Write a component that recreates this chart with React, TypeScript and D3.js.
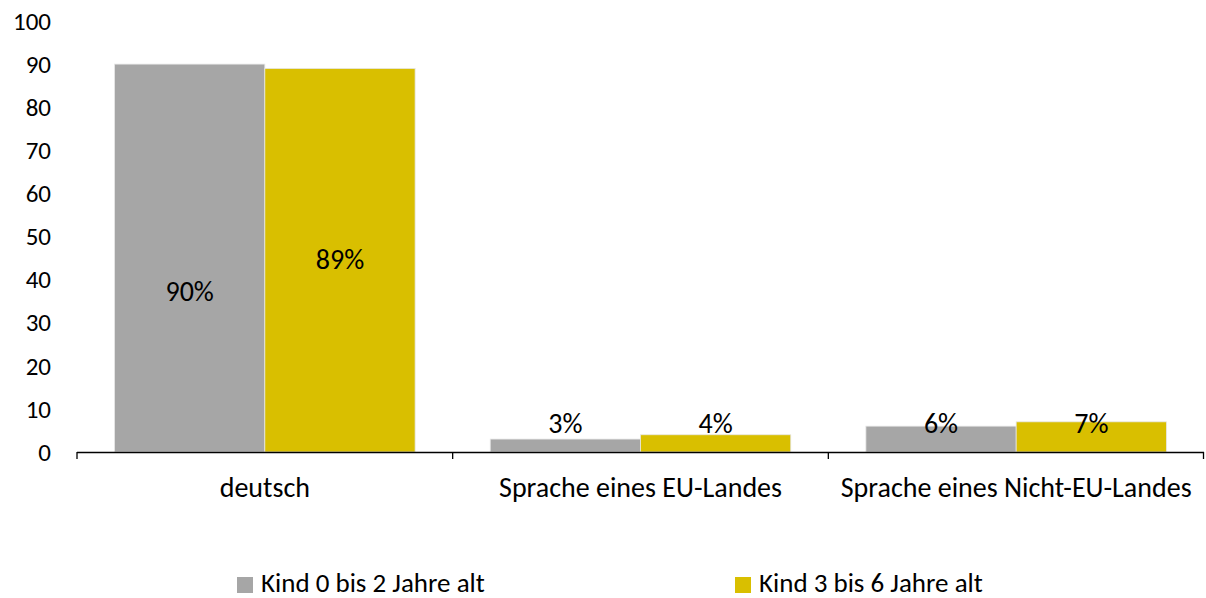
import * as d3 from 'd3';
import React, { useRef, useEffect } from 'react';

// categories and series (in percent)
const categories = ['deutsch', 'Sprache eines EU-Landes', 'Sprache eines Nicht-EU-Landes'];
const seriesNames = ['Kind 0 bis 2 Jahre alt', 'Kind 3 bis 6 Jahre alt'];
const age0to2 = [90, 3, 6];
const age3to6 = [89, 4, 7];
const yTicks = [0, 10, 20, 30, 40, 50, 60, 70, 80, 90, 100];

const colors = ['#A6A6A6', '#D9BF00'];
const W = 1206;
const H = 598;
const FONT = 'Carlito, Calibri, Lato, "Open Sans", sans-serif';

function App() {
  const svgRef = useRef<SVGSVGElement>(null);

  useEffect(() => {
    document.body.style.margin = '0';
    const svg = d3.select(svgRef.current);
    svg.selectAll('*').remove();

    const margin = { left: 77, right: 2, top: 21, bottom: 146 };
    const x = d3.scaleBand<string>()
      .domain(categories)
      .range([margin.left, W - margin.right]);
    const inner = d3.scaleBand<string>()
      .domain(seriesNames)
      .range([0, x.bandwidth()])
      .paddingOuter(0.25)
      .paddingInner(0);
    const y = d3.scaleLinear().domain([0, 100]).range([H - margin.bottom, margin.top]);

    // y tick labels (no axis line)
    svg.append('g')
      .selectAll('text')
      .data(yTicks)
      .join('text')
      .attr('x', 51)
      .attr('y', d => y(d))
      .attr('dy', '0.35em')
      .attr('text-anchor', 'end')
      .attr('font-family', FONT)
      .attr('font-size', 25)
      .attr('fill', '#000')
      .text(d => d);

    // bars
    const series = [age0to2, age3to6];
    const rows = categories.flatMap((c, i) =>
      series.map((s, j) => ({ cat: c, name: seriesNames[j], value: s[i], j, i })));

    svg.append('g')
      .selectAll('rect')
      .data(rows)
      .join('rect')
      .attr('x', d => x(d.cat)! + inner(d.name)!)
      .attr('y', d => y(d.value))
      .attr('width', inner.bandwidth())
      .attr('height', d => y(0) - y(d.value))
      .attr('fill', d => colors[d.j])
      .attr('stroke', '#e6e6e6')
      .attr('stroke-width', 0.8);

    // value labels: inside the big bars, above the small ones
    svg.append('g')
      .selectAll('text')
      .data(rows)
      .join('text')
      .attr('x', d => x(d.cat)! + inner(d.name)! + inner.bandwidth() / 2)
      .attr('y', d => {
        if (d.i === 0) return d.j === 0 ? y(37.3) : y(44.8);
        return y(6.6);
      })
      .attr('dy', '0.35em')
      .attr('text-anchor', 'middle')
      .attr('font-family', FONT)
      .attr('font-size', 28)
      .attr('fill', '#000')
      .text(d => `${d.value}%`);

    // x axis
    const axisY = y(0);
    const gx = svg.append('g');
    gx.append('line')
      .attr('x1', margin.left).attr('x2', W - margin.right)
      .attr('y1', axisY + 0.5).attr('y2', axisY + 0.5)
      .attr('stroke', '#000').attr('stroke-width', 1.3);
    const bounds = categories.map(c => x(c)!).concat([x(categories[categories.length - 1])! + x.bandwidth()]);
    gx.selectAll('line.tick')
      .data(bounds)
      .join('line')
      .attr('class', 'tick')
      .attr('x1', d => Math.min(d, W - margin.right - 0.5))
      .attr('x2', d => Math.min(d, W - margin.right - 0.5))
      .attr('y1', axisY)
      .attr('y2', axisY + 7)
      .attr('stroke', '#000').attr('stroke-width', 1.3);
    gx.selectAll('text')
      .data(categories)
      .join('text')
      .attr('x', d => x(d)! + x.bandwidth() / 2)
      .attr('y', axisY + 35)
      .attr('dy', '0.35em')
      .attr('text-anchor', 'middle')
      .attr('font-family', FONT)
      .attr('font-size', 28)
      .attr('fill', '#000')
      .text(d => d);

    // legend
    const legendX = [237, 735];
    const lg = svg.append('g');
    seriesNames.forEach((n, j) => {
      lg.append('rect')
        .attr('x', legendX[j]).attr('y', 577)
        .attr('width', 16).attr('height', 16)
        .attr('fill', colors[j]);
      lg.append('text')
        .attr('x', legendX[j] + 24).attr('y', 592)
        .attr('font-family', FONT)
        .attr('font-size', 27)
        .attr('fill', '#000')
        .text(n);
    });
  });

  return <svg ref={svgRef} width={W} height={H} style={{ display: 'block' }} />;
}

export default App;
